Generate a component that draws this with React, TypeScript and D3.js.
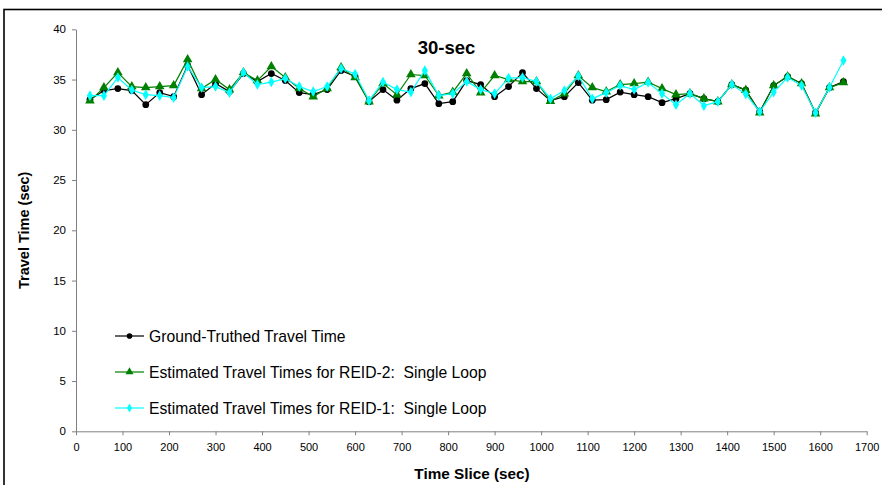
import React, {useRef, useEffect} from 'react';
import * as d3 from "d3";

// time slices every 30 sec
const timeSlices = d3.range(30, 1651, 30);

const groundTruth = [33.0, 33.9, 34.1, 33.9, 32.5, 33.7, 33.3, 36.4, 33.5, 34.6, 33.8, 35.6, 34.8, 35.6, 34.9,
  33.7, 33.5, 34.0, 35.9, 35.3, 32.8, 34.0, 32.95, 34.1, 34.6, 32.6, 32.8, 34.9, 34.5, 33.3,
  34.3, 35.7, 34.1, 32.9, 33.3, 34.7, 32.95, 33.0, 33.75, 33.5, 33.3, 32.7, 33.1, 33.6, 33.1,
  32.8, 34.5, 33.95, 31.8, 34.4, 35.3, 34.6, 31.7, 34.2, 34.8];

const reid2 = [32.9, 34.2, 35.7, 34.3, 34.2, 34.3, 34.4, 37.0, 34.1, 35.0, 34.0, 35.7, 34.9, 36.3, 35.2,
  34.1, 33.3, 34.1, 36.2, 35.2, 32.8, 34.6, 33.5, 35.5, 35.4, 33.4, 33.75, 35.6, 33.7, 35.4,
  35.0, 34.8, 34.8, 32.85, 33.6, 35.4, 34.2, 33.8, 34.5, 34.6, 34.75, 34.1, 33.5, 33.6, 33.1,
  32.8, 34.5, 33.95, 31.7, 34.4, 35.3, 34.6, 31.6, 34.2, 34.7];

const reid1 = [33.4, 33.4, 35.2, 33.95, 33.5, 33.4, 33.2, 36.3, 34.2, 34.3, 33.7, 35.7, 34.5, 34.75, 35.1,
  34.3, 33.8, 34.3, 36.1, 35.55, 32.9, 34.75, 34.0, 33.75, 35.9, 33.4, 33.6, 34.8, 34.0, 33.6,
  35.15, 35.2, 34.8, 33.1, 33.9, 35.35, 33.1, 33.7, 34.4, 34.0, 34.7, 33.6, 32.5, 33.6, 32.4,
  32.8, 34.5, 33.55, 31.8, 33.75, 35.2, 34.4, 31.7, 34.2, 36.9];

const seriesNames = [
  "Ground-Truthed Travel Time",
  "Estimated Travel Times for REID-2:  Single Loop",
  "Estimated Travel Times for REID-1:  Single Loop",
];
const xTicks = d3.range(0, 1701, 100);
const yTicks = d3.range(0, 41, 5);

function App() {
  const canvas = useRef(null);

  useEffect(() => {
    const width = 882;
    const height = 485;
    const font = "'Liberation Sans', Arial, sans-serif";
    d3.select(canvas.current).select('svg').remove();

    const svg = d3.select(canvas.current)
      .append("svg")
      .attr("width", width)
      .attr("height", height)
      .style("position", "absolute")
      .style("left", "0px")
      .style("top", "0px")
      .style("font-family", font);

    svg.append("rect").attr("width", width).attr("height", height).attr("fill", "#fff");
    // outer frame
    svg.append("rect")
      .attr("x", 4).attr("y", 9.5)
      .attr("width", 900).attr("height", 500)
      .attr("fill", "none").attr("stroke", "#000").attr("stroke-width", 1.6);

    const x = d3.scaleLinear().domain([0, 1700]).range([76, 866.7]);
    const y = d3.scaleLinear().domain([0, 40]).range([431.3, 29.3]);

    // x axis
    const gx = svg.append("g")
      .attr("transform", `translate(0, ${y(0)})`)
      .call(d3.axisBottom(x).tickValues(xTicks).tickFormat(d3.format("d")).tickSize(4).tickPadding(8).tickSizeOuter(0));
    gx.select(".domain").attr("stroke", "#808080");
    gx.selectAll(".tick line").attr("stroke", "#808080");
    gx.selectAll("text").attr("font-size", 11).attr("font-family", font).attr("fill", "#000");

    // y axis
    const gy = svg.append("g")
      .attr("transform", `translate(${x(0)}, 0)`)
      .call(d3.axisLeft(y).tickValues(yTicks).tickSize(4).tickPadding(6).tickSizeOuter(0));
    gy.select(".domain").attr("stroke", "#808080");
    gy.selectAll(".tick line").attr("stroke", "#808080");
    gy.selectAll("text").attr("font-size", 11.5).attr("font-family", font).attr("fill", "#000");

    const series = [
      {name: seriesNames[0], values: groundTruth, color: "#000000", marker: d3.symbolCircle, size: 36},
      {name: seriesNames[1], values: reid2, color: "#008000", marker: d3.symbolTriangle, size: 40},
      {name: seriesNames[2], values: reid1, color: "#00FFFF", marker: d3.symbolDiamond, size: 32},
    ];

    const line = d3.line()
      .x((d, i) => x(timeSlices[i]))
      .y(d => y(d));

    series.forEach(s => {
      svg.append("path")
        .datum(s.values)
        .attr("d", line)
        .attr("fill", "none")
        .attr("stroke", s.color)
        .attr("stroke-width", 1.2);
      svg.selectAll(null)
        .data(s.values)
        .enter()
        .append("path")
        .attr("d", d3.symbol().type(s.marker).size(s.size))
        .attr("transform", (d, i) => `translate(${x(timeSlices[i])}, ${y(d)})`)
        .attr("fill", s.color);
    });

    // legend
    const legend = svg.append("g");
    series.forEach((s, i) => {
      const ly = 336 + i * 36;
      legend.append("line")
        .attr("x1", 115).attr("x2", 144)
        .attr("y1", ly).attr("y2", ly)
        .attr("stroke", s.color).attr("stroke-width", 1.2);
      legend.append("path")
        .attr("d", d3.symbol().type(s.marker).size(s.size * 0.7))
        .attr("transform", `translate(129.5, ${ly})`)
        .attr("fill", s.color);
      legend.append("text")
        .attr("x", 149).attr("y", ly + 5.5)
        .attr("font-size", 15.7)
        .attr("fill", "#000")
        .style("white-space", "pre")
        .text(s.name);
    });

    // titles
    svg.append("text")
      .attr("x", 446.5).attr("y", 54)
      .attr("text-anchor", "middle")
      .attr("font-size", 18.5).attr("font-weight", "bold")
      .text("30-sec");

    svg.append("text")
      .attr("x", 472).attr("y", 479)
      .attr("text-anchor", "middle")
      .attr("font-size", 15.3).attr("font-weight", "bold")
      .text("Time Slice (sec)");

    svg.append("text")
      .attr("transform", `translate(29, ${(y(0) + y(40)) / 2}) rotate(-90)`)
      .attr("text-anchor", "middle")
      .attr("font-size", 14.5).attr("font-weight", "bold")
      .text("Travel Time (sec)");
  }, []);

  return (
    <div ref={canvas}></div>
  );
}

export default App;
